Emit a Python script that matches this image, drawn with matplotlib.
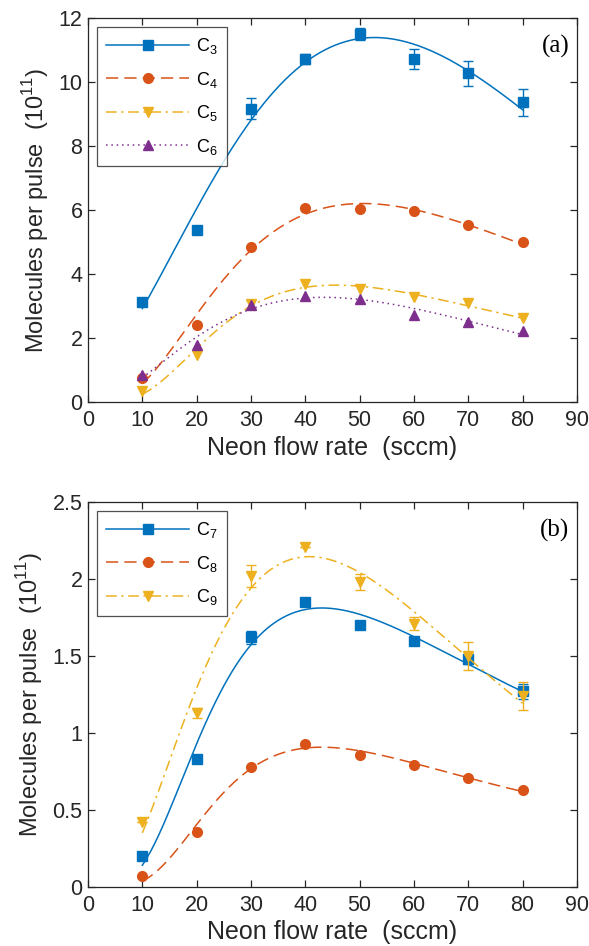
import numpy as np
import matplotlib
matplotlib.use('Agg')
import matplotlib.pyplot as plt
from matplotlib.lines import Line2D
from matplotlib.ticker import FormatStrFormatter

plt.rcParams['font.family'] = ['Liberation Sans', 'DejaVu Sans']
plt.rcParams['mathtext.fontset'] = 'custom'
plt.rcParams['mathtext.rm'] = 'Liberation Sans'

# ---------- data ----------
flow = [10, 20, 30, 40, 50, 60, 70, 80]

c3 = [3.12, 5.38, 9.16, 10.72, 11.5, 10.72, 10.28, 9.36]
c3_err = [0.0, 0.0, 0.33, 0.16, 0.18, 0.31, 0.39, 0.41]
c4 = [0.74, 2.42, 4.84, 6.07, 6.02, 5.96, 5.53, 4.99]
c5 = [0.36, 1.48, 3.06, 3.70, 3.52, 3.27, 3.08, 2.63]
c6 = [0.85, 1.78, 3.03, 3.32, 3.23, 2.72, 2.50, 2.22]

c7 = [0.20, 0.83, 1.62, 1.85, 1.70, 1.60, 1.48, 1.27]
c7_err = [0.0, 0.0, 0.04, 0.0, 0.0, 0.0, 0.03, 0.05]
c8 = [0.07, 0.36, 0.78, 0.93, 0.86, 0.79, 0.71, 0.63]
c9 = [0.42, 1.13, 2.02, 2.21, 1.98, 1.71, 1.50, 1.24]
c9_err = [0.0, 0.03, 0.07, 0.0, 0.05, 0.04, 0.09, 0.09]

blue, red, yellow, purple = '#0072BD', '#D95319', '#EDB120', '#7E2F8E'
axcol = '#262626'


def smooth_fit(x, y):
    # log-space fit (log-normal shape plus exp term), weighted by y
    x = np.asarray(x, float)
    y = np.asarray(y, float)
    lx = np.log(x)
    A = np.column_stack([np.ones_like(x), lx, lx ** 2, x])
    w = y
    p, *_ = np.linalg.lstsq(A * w[:, None], np.log(y) * w, rcond=None)
    xs = np.linspace(x.min(), x.max(), 300)
    lxs = np.log(xs)
    ys = np.exp(p[0] + p[1] * lxs + p[2] * lxs ** 2 + p[3] * xs)
    return xs, ys


def style_axes(ax, ymax, ystep, fmt):
    ax.set_xlim(0, 90)
    ax.set_ylim(0, ymax)
    ax.set_xticks(np.arange(0, 91, 10))
    ax.set_yticks(np.arange(0, ymax + 1e-9, ystep))
    ax.yaxis.set_major_formatter(FormatStrFormatter(fmt))
    ax.tick_params(direction='in', top=True, right=True, length=5, width=0.9,
                   colors=axcol, labelsize=15.5, pad=4)
    ax.tick_params(axis='x', pad=6)
    for sp in ax.spines.values():
        sp.set_color(axcol)
        sp.set_linewidth(0.9)
    ax.set_xlabel('Neon flow rate  (sccm)', fontsize=18, color=axcol, labelpad=3)
    ax.set_ylabel('Molecules per pulse  (10$^{11}$)', fontsize=17, color=axcol, labelpad=5)


fig = plt.figure(figsize=(5.89, 9.46), dpi=100)
ax1 = fig.add_axes([0.1494, 0.575, 0.830, 0.406])
ax2 = fig.add_axes([0.1494, 0.0624, 0.830, 0.407])

series_a = [
    (c3, c3_err, blue, '-', 's', 6.5, 'C$_3$'),
    (c4, None, red, (0, (8, 4)), 'o', 7, 'C$_4$'),
    (c5, None, yellow, (0, (7, 3, 1.5, 3)), 'v', 7.5, 'C$_5$'),
    (c6, None, purple, (0, (1, 2.5)), '^', 7.5, 'C$_6$'),
]
series_b = [
    (c7, c7_err, blue, '-', 's', 6.5, 'C$_7$'),
    (c8, None, red, (0, (8, 4)), 'o', 7, 'C$_8$'),
    (c9, c9_err, yellow, (0, (7, 3, 1.5, 3)), 'v', 7.5, 'C$_9$'),
]

for ax, series, ymax, ystep, fmt, tag in [(ax1, series_a, 12, 2, '%g', '(a)'),
                                         (ax2, series_b, 2.5, 0.5, '%g', '(b)')]:
    handles = []
    for y, err, col, ls, mk, ms, lab in series:
        xs, ys = smooth_fit(flow, y)
        ax.plot(xs, ys, color=col, ls=ls, lw=1.1)
        if err is not None:
            ax.errorbar(flow, y, yerr=err, fmt='none', ecolor=col, elinewidth=1.0,
                        capsize=3.5, capthick=1.0)
        ax.plot(flow, y, ls='none', marker=mk, ms=ms, color=col, mec=col)
        handles.append(Line2D([], [], color=col, ls=ls, lw=1.1, marker=mk, ms=ms,
                              mec=col, label=lab))
    style_axes(ax, ymax, ystep, fmt)
    leg = ax.legend(handles=handles, loc='upper left', bbox_to_anchor=(0.0, 1.0),
                    handlelength=4.6, fontsize=13, frameon=True, fancybox=False,
                    borderpad=0.5, labelspacing=0.75, handletextpad=0.4,
                    borderaxespad=0.5)
    leg.get_frame().set_edgecolor(axcol)
    leg.get_frame().set_linewidth(0.9)
    ax.text(0.985, 0.955, tag, transform=ax.transAxes, ha='right', va='top',
            fontsize=18, family='Liberation Serif', color='black')

fig.savefig('out.png', dpi=100)
